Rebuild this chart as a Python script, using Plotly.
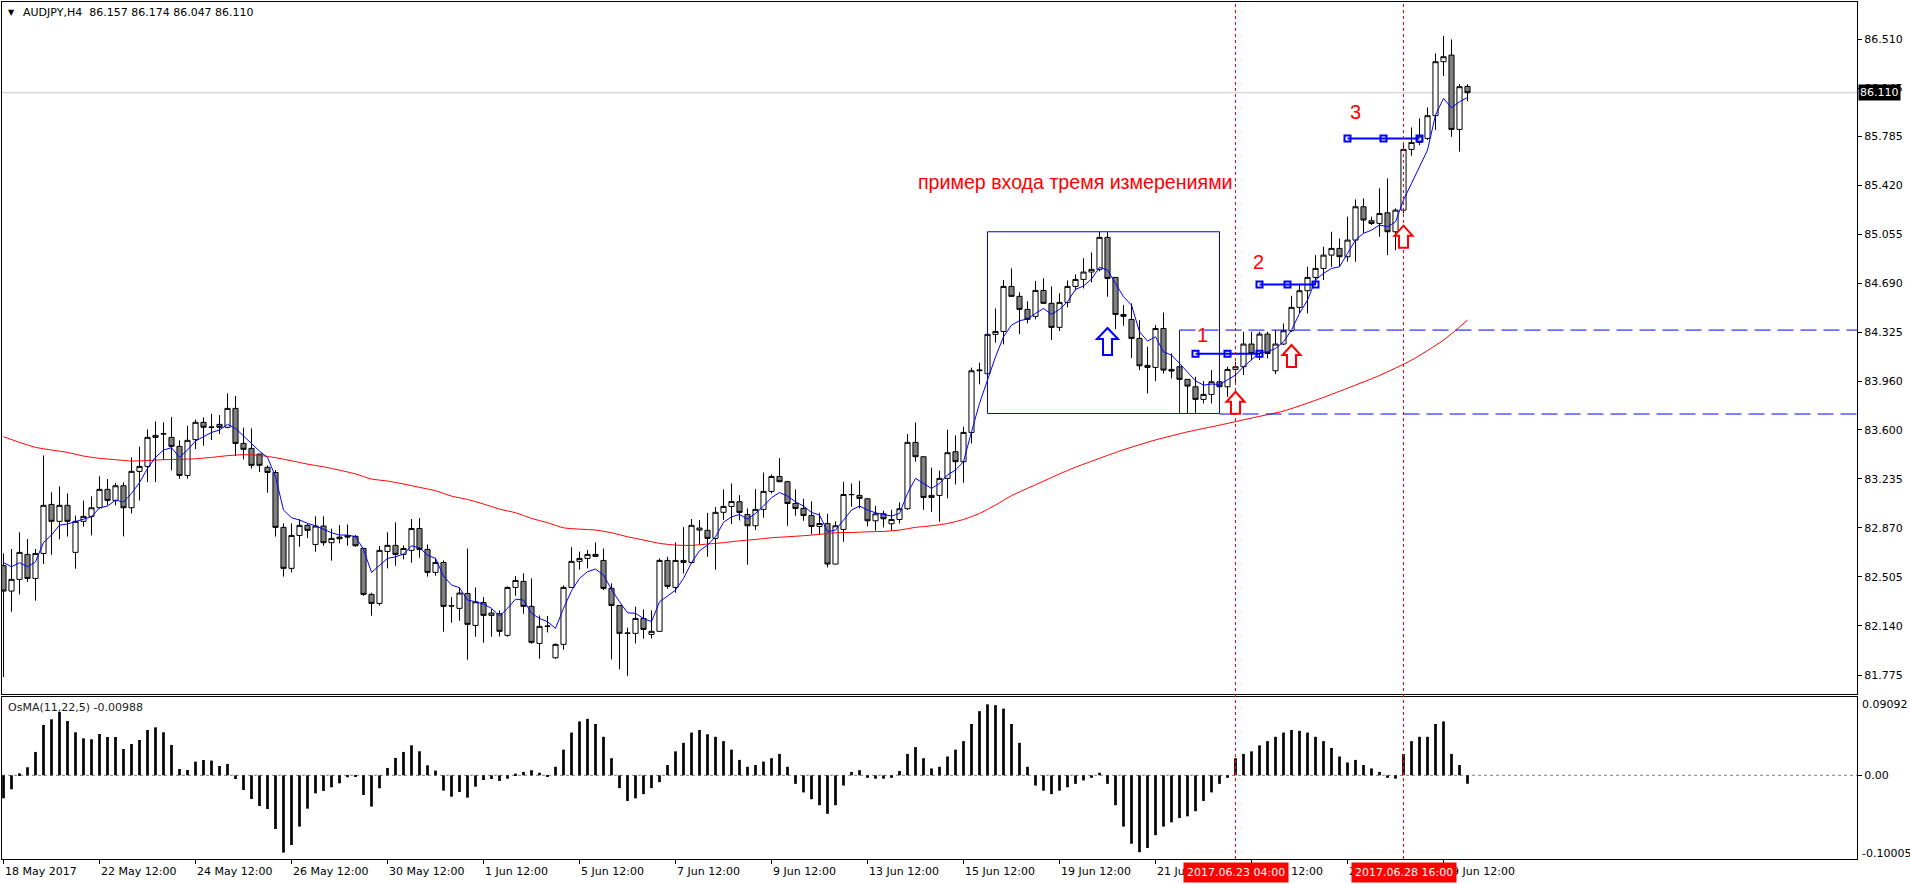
import plotly.graph_objects as go

# ---------------- data ----------------
opens = [82.589, 82.400, 82.487, 82.673, 82.494, 82.680, 83.045, 82.919, 83.038, 82.688,
         82.919, 82.956, 83.020, 83.157, 83.075, 83.184, 83.020, 83.291, 83.328, 83.544,
         83.569, 83.544, 83.477, 83.261, 83.527, 83.656, 83.621, 83.641, 83.619, 83.760,
         83.499, 83.462, 83.420, 83.321, 83.283, 82.874, 82.569, 82.814, 82.889, 82.747,
         82.884, 82.760, 82.802, 82.812, 82.807, 82.718, 82.375, 82.308, 82.695, 82.740,
         82.673, 82.703, 82.866, 82.710, 82.539, 82.613, 82.291, 82.271, 82.382, 82.144,
         82.315, 82.219, 82.231, 82.070, 82.427, 82.472, 82.286, 82.010, 82.137, 81.903,
         82.003, 82.427, 82.621, 82.643, 82.673, 82.628, 82.420, 82.293, 82.085, 82.085,
         82.196, 82.077, 82.100, 82.628, 82.427, 82.613, 82.613, 82.854, 82.852, 82.792,
         82.986, 83.030, 83.065, 82.970, 82.886, 83.008, 83.142, 83.253, 83.214, 83.052,
         83.015, 82.963, 82.881, 82.903, 82.601, 82.859, 83.117, 83.112, 83.087, 82.923,
         82.975, 82.901, 82.933, 83.013, 83.507, 83.400, 83.097, 83.112, 83.239, 83.437,
         83.363, 83.581, 84.040, 84.018, 84.311, 84.333, 84.668, 84.594, 84.497, 84.445,
         84.638, 84.542, 84.363, 84.549, 84.668, 84.720, 84.775, 84.795, 85.033, 84.735,
         84.459, 84.422, 84.281, 84.080, 84.065, 84.355, 84.050, 84.070, 83.976, 83.921,
         83.827, 83.864, 83.958, 83.921, 84.050, 84.070, 84.239, 84.169, 84.313, 84.040,
         84.239, 84.338, 84.512, 84.636, 84.735, 84.802, 84.901, 84.951, 84.889, 85.013,
         85.261, 85.157, 85.137, 85.216, 85.075, 85.236, 85.688, 85.740, 85.770, 85.939,
         86.341, 86.390, 85.837, 86.157]
highs = [82.680, 82.713, 82.837, 82.787, 82.713, 83.410, 83.135, 83.179, 83.127, 82.961,
         83.073, 83.105, 83.254, 83.234, 83.204, 83.209, 83.395, 83.475, 83.604, 83.663,
         83.656, 83.695, 83.522, 83.631, 83.676, 83.693, 83.720, 83.710, 83.872, 83.852,
         83.616, 83.611, 83.420, 83.336, 83.301, 82.904, 82.904, 82.934, 82.901, 82.956,
         82.956, 82.864, 82.891, 82.896, 82.817, 82.718, 82.387, 82.735, 82.837, 82.911,
         82.740, 82.936, 82.943, 82.747, 82.648, 82.628, 82.355, 82.425, 82.717, 82.427,
         82.355, 82.266, 82.256, 82.435, 82.511, 82.531, 82.494, 82.219, 82.214, 82.010,
         82.442, 82.727, 82.693, 82.705, 82.762, 82.717, 82.457, 82.293, 82.127, 82.283,
         82.263, 82.256, 82.643, 82.655, 82.762, 82.876, 82.936, 82.929, 82.981, 83.025,
         83.157, 83.201, 83.114, 83.015, 83.159, 83.283, 83.268, 83.390, 83.221, 83.157,
         83.087, 83.067, 82.983, 82.975, 82.918, 83.214, 83.201, 83.221, 83.090, 83.035,
         82.998, 83.005, 83.060, 83.569, 83.655, 83.400, 83.318, 83.296, 83.601, 83.559,
         83.623, 84.063, 84.100, 84.311, 84.504, 84.715, 84.802, 84.624, 84.557, 84.708,
         84.728, 84.668, 84.616, 84.713, 84.758, 84.877, 84.921, 85.075, 85.075, 84.735,
         84.529, 84.541, 84.417, 84.219, 84.380, 84.474, 84.169, 84.107, 83.976, 83.995,
         83.963, 84.045, 84.082, 84.070, 84.107, 84.330, 84.330, 84.330, 84.330, 84.343,
         84.392, 84.598, 84.690, 84.814, 84.901, 84.963, 85.075, 85.025, 85.187, 85.316,
         85.323, 85.187, 85.398, 85.472, 85.249, 85.738, 85.852, 85.919, 86.001, 86.403,
         86.532, 86.507, 86.174, 86.174]
lows = [81.760, 82.246, 82.375, 82.469, 82.328, 82.601, 82.670, 82.785, 82.805, 82.566,
        82.879, 82.814, 83.013, 83.038, 83.038, 82.807, 82.978, 83.075, 83.211, 83.211,
        83.375, 83.298, 83.236, 83.236, 83.457, 83.482, 83.524, 83.569, 83.612, 83.405,
        83.380, 83.311, 83.286, 83.132, 82.805, 82.507, 82.539, 82.730, 82.795, 82.693,
        82.737, 82.626, 82.755, 82.737, 82.730, 82.365, 82.216, 82.291, 82.569, 82.588,
        82.636, 82.611, 82.648, 82.507, 82.514, 82.097, 82.164, 82.179, 81.889, 82.060,
        82.015, 82.060, 82.062, 82.060, 82.365, 82.231, 82.008, 81.896, 82.092, 81.896,
        81.963, 82.425, 82.559, 82.569, 82.656, 82.407, 81.891, 81.817, 81.769, 82.010,
        82.045, 82.047, 82.100, 82.417, 82.387, 82.531, 82.606, 82.747, 82.655, 82.559,
        82.929, 82.899, 82.926, 82.596, 82.854, 82.946, 83.127, 83.212, 82.886, 82.961,
        82.923, 82.822, 82.822, 82.576, 82.598, 82.767, 83.028, 83.015, 82.881, 82.849,
        82.874, 82.849, 82.903, 83.005, 83.363, 83.005, 82.990, 82.916, 83.090, 83.194,
        83.206, 83.499, 83.939, 83.921, 84.249, 84.236, 84.590, 84.313, 84.393, 84.423,
        84.540, 84.269, 84.336, 84.512, 84.638, 84.653, 84.698, 84.780, 84.591, 84.350,
        84.375, 84.134, 84.045, 83.871, 83.963, 84.020, 83.983, 83.958, 83.722, 83.727,
        83.797, 83.797, 83.920, 83.846, 83.946, 84.008, 84.119, 84.119, 84.132, 84.015,
        84.231, 84.330, 84.467, 84.467, 84.678, 84.715, 84.814, 84.814, 84.852, 84.852,
        85.063, 85.125, 85.038, 84.901, 84.938, 85.211, 85.641, 85.720, 85.758, 85.832,
        86.234, 85.782, 85.671, 86.047]
closes = [82.400, 82.487, 82.688, 82.494, 82.680, 83.038, 82.919, 83.038, 82.919, 82.919,
          82.956, 83.020, 83.157, 83.075, 83.184, 83.020, 83.291, 83.328, 83.544, 83.559,
          83.571, 83.477, 83.261, 83.522, 83.656, 83.619, 83.619, 83.619, 83.760, 83.499,
          83.455, 83.336, 83.336, 83.283, 82.874, 82.569, 82.814, 82.889, 82.852, 82.884,
          82.760, 82.792, 82.790, 82.802, 82.737, 82.375, 82.308, 82.703, 82.740, 82.673,
          82.717, 82.866, 82.710, 82.539, 82.613, 82.286, 82.289, 82.385, 82.152, 82.320,
          82.219, 82.236, 82.100, 82.427, 82.479, 82.286, 82.018, 82.137, 82.139, 82.003,
          82.427, 82.621, 82.643, 82.673, 82.658, 82.420, 82.293, 82.085, 82.087, 82.196,
          82.114, 82.100, 82.628, 82.435, 82.628, 82.628, 82.889, 82.869, 82.792, 82.986,
          83.030, 83.067, 82.985, 82.886, 83.008, 83.142, 83.253, 83.214, 83.052, 83.015,
          82.963, 82.881, 82.903, 82.601, 82.886, 83.119, 83.119, 83.090, 82.923, 82.975,
          82.938, 82.933, 83.013, 83.507, 83.400, 83.097, 83.112, 83.239, 83.430, 83.363,
          83.581, 84.040, 84.045, 84.311, 84.333, 84.668, 84.594, 84.497, 84.423, 84.638,
          84.542, 84.363, 84.549, 84.668, 84.720, 84.775, 84.795, 85.033, 84.727, 84.459,
          84.445, 84.281, 84.077, 84.065, 84.355, 84.045, 84.038, 83.976, 83.926, 83.827,
          83.864, 83.958, 83.921, 84.050, 84.070, 84.239, 84.169, 84.313, 84.169, 84.239,
          84.338, 84.512, 84.636, 84.735, 84.802, 84.901, 84.951, 84.889, 85.013, 85.261,
          85.162, 85.137, 85.211, 85.075, 85.236, 85.688, 85.740, 85.787, 85.939, 86.341,
          86.378, 85.837, 86.155, 86.110]

ma_fast = [82.611, 82.581, 82.611, 82.581, 82.618, 82.762, 82.817, 82.891, 82.899, 82.916,
           82.934, 82.953, 83.020, 83.033, 83.077, 83.063, 83.127, 83.207, 83.313, 83.395,
           83.450, 83.467, 83.395, 83.450, 83.517, 83.549, 83.581, 83.599, 83.641, 83.611,
           83.554, 83.499, 83.442, 83.395, 83.251, 83.003, 82.946, 82.929, 82.904, 82.886,
           82.859, 82.834, 82.817, 82.817, 82.805, 82.710, 82.539, 82.593, 82.643, 82.655,
           82.675, 82.737, 82.722, 82.668, 82.643, 82.512, 82.445, 82.425, 82.333, 82.320,
           82.303, 82.271, 82.214, 82.271, 82.340, 82.333, 82.234, 82.196, 82.172, 82.122,
           82.271, 82.402, 82.494, 82.544, 82.564, 82.519, 82.412, 82.320, 82.238, 82.234,
           82.196, 82.172, 82.320, 82.363, 82.407, 82.494, 82.611, 82.700, 82.742, 82.804,
           82.911, 82.953, 82.970, 82.936, 82.978, 83.033, 83.095, 83.134, 83.107, 83.065,
           83.033, 82.985, 82.966, 82.842, 82.854, 82.928, 83.003, 83.033, 83.003, 82.983,
           82.970, 82.958, 82.978, 83.127, 83.239, 83.201, 83.164, 83.201, 83.264, 83.301,
           83.363, 83.586, 83.797, 83.971, 84.144, 84.293, 84.380, 84.413, 84.425, 84.467,
           84.504, 84.460, 84.497, 84.554, 84.646, 84.671, 84.723, 84.810, 84.790, 84.690,
           84.591, 84.529, 84.330, 84.261, 84.293, 84.181, 84.157, 84.095, 84.033, 83.965,
           83.933, 83.941, 83.938, 83.970, 84.008, 84.070, 84.124, 84.174, 84.181, 84.206,
           84.256, 84.343, 84.467, 84.566, 84.715, 84.765, 84.802, 84.814, 84.914, 85.013,
           85.063, 85.087, 85.125, 85.112, 85.149, 85.311, 85.435, 85.559, 85.683, 85.944,
           86.068, 85.998, 86.043, 86.075]

ma_slow_bar = [0, 2, 4, 6, 8, 10, 12, 14, 16, 18, 20, 22, 24, 26, 28, 30, 32, 34, 36, 38,
               40, 42, 44, 46, 48, 50, 52, 54, 56, 58, 60, 62, 64, 66, 68, 70, 72, 74, 76, 78,
               80, 82, 84, 86, 88, 90, 92, 94, 96, 98, 100, 102, 104, 106, 108, 110, 112, 114,
               116, 118, 120, 122, 124, 126, 128, 130, 132, 134, 136, 138, 140, 144, 148, 152,
               156, 160, 164, 168, 172, 176, 180, 183]
ma_slow = [83.549, 83.507, 83.470, 83.450, 83.432, 83.405, 83.388, 83.378, 83.368, 83.372,
           83.378, 83.380, 83.385, 83.395, 83.408, 83.415, 83.410, 83.393, 83.370, 83.345,
           83.325, 83.300, 83.272, 83.234, 83.219, 83.197, 83.172, 83.147, 83.107, 83.082,
           83.048, 83.010, 82.983, 82.941, 82.909, 82.871, 82.861, 82.854, 82.834, 82.804,
           82.780, 82.755, 82.742, 82.740, 82.750, 82.760, 82.774, 82.784, 82.797, 82.804,
           82.812, 82.822, 82.834, 82.836, 82.841, 82.844, 82.854, 82.874, 82.886, 82.903,
           82.933, 82.978, 83.040, 83.110, 83.165, 83.218, 83.272, 83.322, 83.366, 83.410,
           83.452, 83.525, 83.585, 83.635, 83.688, 83.740, 83.820, 83.910, 84.005, 84.119,
           84.268, 84.417]

osma = [-0.0269, -0.0164, 0.0023, 0.0094, 0.0273, 0.0589, 0.0655, 0.0741, 0.0635, 0.0503,
        0.0433, 0.0421, 0.0483, 0.0448, 0.0448, 0.0308, 0.0366, 0.0413, 0.0530, 0.0561,
        0.0503, 0.0355, 0.0074, 0.0062, 0.0160, 0.0179, 0.0172, 0.0109, 0.0133, -0.0043,
        -0.0172, -0.0277, -0.0359, -0.0394, -0.0628, -0.0904, -0.0815, -0.0600, -0.0390, -0.0211,
        -0.0183, -0.0140, -0.0094, -0.0023, -0.0016, -0.0230, -0.0366, -0.0152, 0.0086, 0.0203,
        0.0273, 0.0351, 0.0281, 0.0117, 0.0055, -0.0179, -0.0250, -0.0195, -0.0261, -0.0133,
        -0.0055, -0.0043, -0.0066, -0.0040, 0.0020, 0.0040, 0.0060, 0.0030, -0.0020, 0.0100,
        0.0300, 0.0500, 0.0630, 0.0660, 0.0600, 0.0450, 0.0200, -0.0150, -0.0300, -0.0270,
        -0.0220, -0.0150, -0.0080, 0.0120, 0.0280, 0.0380, 0.0500, 0.0530, 0.0480, 0.0450,
        0.0400, 0.0300, 0.0180, 0.0100, 0.0120, 0.0160, 0.0200, 0.0250, 0.0100, -0.0100,
        -0.0200, -0.0280, -0.0350, -0.0450, -0.0350, -0.0120, 0.0040, 0.0060, -0.0030, -0.0040,
        -0.0040, -0.0030, 0.0050, 0.0250, 0.0330, 0.0200, 0.0080, 0.0100, 0.0220, 0.0300,
        0.0400, 0.0600, 0.0750, 0.0830, 0.0820, 0.0780, 0.0600, 0.0380, 0.0100, -0.0120,
        -0.0180, -0.0220, -0.0180, -0.0140, -0.0100, -0.0060, -0.0030, 0.0030, -0.0100, -0.0350,
        -0.0600, -0.0800, -0.0900, -0.0850, -0.0700, -0.0600, -0.0550, -0.0500, -0.0480, -0.0420,
        -0.0300, -0.0200, -0.0100, -0.0030, 0.0200, 0.0250, 0.0280, 0.0350, 0.0400, 0.0450,
        0.0500, 0.0530, 0.0520, 0.0500, 0.0450, 0.0400, 0.0320, 0.0220, 0.0150, 0.0180,
        0.0120, 0.0080, 0.0040, -0.0030, -0.0040, 0.0250, 0.0400, 0.0450, 0.0450, 0.0600,
        0.0630, 0.0250, 0.0120, -0.00988]

time_tick_bars = [0, 12, 24, 36, 48, 60, 72, 84, 96, 108, 120, 132, 144, 156, 168, 180]
time_tick_labels = ["18 May 2017", "22 May 12:00", "24 May 12:00", "26 May 12:00",
                    "30 May 12:00", "1 Jun 12:00", "5 Jun 12:00", "7 Jun 12:00",
                    "9 Jun 12:00", "13 Jun 12:00", "15 Jun 12:00", "19 Jun 12:00",
                    "21 Jun 12:00", "23 Jun 12:00", "27 Jun 12:00", "29 Jun 12:00"]
price_ticks = [86.510, 86.145, 85.785, 85.420, 85.055, 84.690, 84.325, 83.960,
               83.600, 83.235, 82.870, 82.505, 82.140, 81.775]
price_tick_labels = ["86.510", "86.145", "85.785", "85.420", "85.055", "84.690", "84.325",
                     "83.960", "83.600", "83.235", "82.870", "82.505", "82.140", "81.775"]
last_price = 86.110
osma_max, osma_min = 0.09092, -0.10005

# drawn objects
vline_bars = [154, 175]
vline_labels = ["2017.06.23 04:00", "2017.06.28 16:00"]
box_bars = [123, 152]
box_prices = [83.722, 85.075]
upper_level, upper_start = 84.343, 147
lower_level, lower_start = 83.718, 152
level1_bars, level1_price = [149, 153, 157], 84.167
level2_bars, level2_price = [157, 160.5, 164], 84.683
level3_bars, level3_price = [168, 172.5, 177], 85.770
red_arrow_bars = [154, 161, 175]
red_arrow_prices = [83.884, 84.232, 85.120]
blue_arrow_bars = [138]
blue_arrow_prices = [84.358]
note_text = "пример входа тремя измерениями"
note_bar, note_price = 114.06, 85.445
digit_texts = ["1", "2", "3"]
digit_bars = [149.9, 156.9, 169.0]
digit_prices = [84.306, 84.852, 85.969]

# ---------------- layout geometry ----------------
W, H = 1910, 884
PL, PR, PT, PB = 2, 1857, 2, 859
BAR0, BARW = 3.5, 8.0
xmin = (PL - BAR0) / BARW
xmax = (PR - BAR0) / BARW


def xp(px):
    return (px - PL) / (PR - PL)


def yp(py):
    return (PB - py) / (PB - PT)


main_dom = [yp(694), 1.0]
ind_dom = [0.0, yp(697)]
zero_py = 775.3
ind_scale = 855.0
ind_range = [-(PB - zero_py) / ind_scale, (zero_py - 697) / ind_scale]
main_range = [86.510 - (694 - 39) * 0.007445, 86.510 + (39 - 2) * 0.007445]

FONT = "DejaVu Sans"
bars = list(range(len(closes)))

fig = go.Figure()
fig.add_trace(go.Candlestick(
    x=bars, open=opens, high=highs, low=lows, close=closes,
    xaxis="x", yaxis="y",
    increasing=dict(line=dict(color="black", width=1), fillcolor="white"),
    decreasing=dict(line=dict(color="black", width=1), fillcolor="#808080"),
    whiskerwidth=0, showlegend=False, hoverinfo="skip"))
fig.add_trace(go.Scatter(x=ma_slow_bar, y=ma_slow, mode="lines",
                         line=dict(color="#ff0000", width=1, shape="spline", smoothing=0.6),
                         hoverinfo="skip"))
fig.add_trace(go.Scatter(x=list(range(len(ma_fast))), y=ma_fast, mode="lines",
                         line=dict(color="#0000ff", width=1), hoverinfo="skip"))
for bx, pr in [(level1_bars, level1_price), (level2_bars, level2_price), (level3_bars, level3_price)]:
    fig.add_trace(go.Scatter(x=bx, y=[pr] * len(bx), mode="lines+markers",
                             line=dict(color="#0000ff", width=2),
                             marker=dict(symbol="square-open", size=6, color="#0000ff",
                                         line=dict(width=2, color="#0000ff")),
                             hoverinfo="skip"))
fig.add_trace(go.Bar(x=list(range(len(osma))), y=osma, xaxis="x2", yaxis="y2",
                     marker=dict(color="black", line=dict(width=0)), width=0.34,
                     hoverinfo="skip"))

shapes = []
shapes.append(dict(type="line", xref="paper", yref="y", x0=0, x1=1, y0=last_price, y1=last_price,
                   line=dict(color="#c8c8c8", width=1), layer="below"))
shapes.append(dict(type="line", xref="paper", yref="y2", x0=0, x1=1, y0=0, y1=0,
                   line=dict(color="#808080", width=1, dash="3px,3px"), layer="below"))
shapes.append(dict(type="rect", xref="x", yref="y", x0=box_bars[0], x1=box_bars[1],
                   y0=box_prices[0], y1=box_prices[1], line=dict(color="#0000ff", width=1)))
shapes.append(dict(type="line", xref="x", yref="y", x0=upper_start, x1=xmax, y0=upper_level,
                   y1=upper_level, line=dict(color="#0000ff", width=1, dash="16px,7px")))
shapes.append(dict(type="line", xref="x", yref="y", x0=lower_start, x1=xmax, y0=lower_level,
                   y1=lower_level, line=dict(color="#0000ff", width=1, dash="16px,7px")))
shapes.append(dict(type="line", xref="x", yref="y", x0=upper_start, x1=upper_start,
                   y0=lower_level, y1=upper_level, line=dict(color="#202020", width=1)))
for vb in vline_bars:
    shapes.append(dict(type="line", xref="x", yref="paper", x0=vb, x1=vb, y0=0, y1=1,
                       line=dict(color="#ff0000", width=1, dash="3px,3px")))
red_path = "M 0 0 L 9 -10 L 4.5 -10 L 4.5 -22 L -4.5 -22 L -4.5 -10 L -9 -10 Z"
blue_path = "M 0 0 L 10.5 -11 L 4.5 -11 L 4.5 -27 L -4.5 -27 L -4.5 -11 L -10.5 -11 Z"
for ab, ap in zip(red_arrow_bars, red_arrow_prices):
    shapes.append(dict(type="path", xref="x", yref="y", xsizemode="pixel", ysizemode="pixel",
                       xanchor=ab, yanchor=ap, path=red_path,
                       line=dict(color="#ff0000", width=2), fillcolor="white"))
for ab, ap in zip(blue_arrow_bars, blue_arrow_prices):
    shapes.append(dict(type="path", xref="x", yref="y", xsizemode="pixel", ysizemode="pixel",
                       xanchor=ab, yanchor=ap, path=blue_path,
                       line=dict(color="#0000ff", width=2), fillcolor="white"))

ann = []
base_font = dict(family=FONT, size=11, color="black")
ann.append(dict(xref="paper", yref="paper", x=xp(11), y=yp(12), text="▼", showarrow=False,
                font=dict(family=FONT, size=8, color="black"), xanchor="center", yanchor="middle"))
ann.append(dict(xref="paper", yref="paper", x=xp(21), y=yp(12),
                text="AUDJPY,H4\u00a0 86.157 86.174 86.047 86.110", showarrow=False,
                font=base_font, xanchor="left", yanchor="middle"))
ann.append(dict(xref="paper", yref="paper", x=xp(6), y=yp(707),
                text="OsMA(11,22,5) -0.00988", showarrow=False,
                font=dict(family=FONT, size=11, color="#202020"), xanchor="left", yanchor="middle"))
for tb, tl in zip(time_tick_bars, time_tick_labels):
    ann.append(dict(xref="x2", yref="paper", x=tb, y=yp(871), text=tl, showarrow=False,
                    font=base_font, xanchor="left", yanchor="middle", xshift=-1))
for vb, vl in zip(vline_bars, vline_labels):
    ann.append(dict(xref="x2", yref="paper", x=vb, y=yp(872), text=vl, showarrow=False,
                    font=dict(family=FONT, size=11, color="white"), bgcolor="#ff0000",
                    borderpad=3, xanchor="center", yanchor="middle"))
ann.append(dict(xref="paper", yref="y", x=xp(1858), y=last_price, text="86.110", showarrow=False,
                font=dict(family=FONT, size=11, color="white"), bgcolor="black", borderpad=1,
                xanchor="left", yanchor="middle"))
ann.append(dict(xref="paper", yref="paper", x=xp(1860), y=yp(704), text=f"{osma_max:.5f}",
                showarrow=False, font=base_font, xanchor="left", yanchor="middle"))
ann.append(dict(xref="paper", yref="paper", x=xp(1860), y=yp(853), text=f"{osma_min:.5f}",
                showarrow=False, font=base_font, xanchor="left", yanchor="middle"))
ann.append(dict(xref="x", yref="y", x=note_bar, y=note_price, text=note_text, showarrow=False,
                font=dict(family="Liberation Sans", size=19.6, color="#ff0000"),
                xanchor="left", yanchor="middle"))
for dt, db, dp in zip(digit_texts, digit_bars, digit_prices):
    ann.append(dict(xref="x", yref="y", x=db, y=dp, text=dt, showarrow=False,
                    font=dict(family="Liberation Sans", size=20, color="#ff0000"),
                    xanchor="center", yanchor="middle"))

axis_common = dict(showgrid=False, zeroline=False, showline=True, mirror=True,
                   linecolor="black", linewidth=1, fixedrange=True)
fig.update_layout(
    width=W, height=H,
    margin=dict(l=PL, r=W - PR, t=PT, b=H - PB, pad=0),
    paper_bgcolor="white", plot_bgcolor="white",
    showlegend=False, hovermode=False,
    boxgap=0.2, boxgroupgap=0.2,
    xaxis=dict(domain=[0, 1], anchor="y", range=[xmin, xmax], showticklabels=False, ticks="",
               rangeslider=dict(visible=False), **axis_common),
    xaxis2=dict(domain=[0, 1], anchor="y2", range=[xmin, xmax], showticklabels=False,
                ticks="outside", ticklen=4, tickcolor="black", tickvals=time_tick_bars,
                **axis_common),
    yaxis=dict(domain=main_dom, anchor="x", side="right", range=main_range,
               tickvals=price_ticks, ticktext=price_tick_labels, ticks="outside", ticklen=4,
               tickcolor="black", tickfont=base_font, **axis_common),
    yaxis2=dict(domain=ind_dom, anchor="x2", side="right", range=ind_range,
                tickvals=[0], ticktext=["0.00"], ticks="outside", ticklen=4,
                tickcolor="black", tickfont=base_font, **axis_common),
    shapes=shapes, annotations=ann,
)

fig.write_html("out.html")
